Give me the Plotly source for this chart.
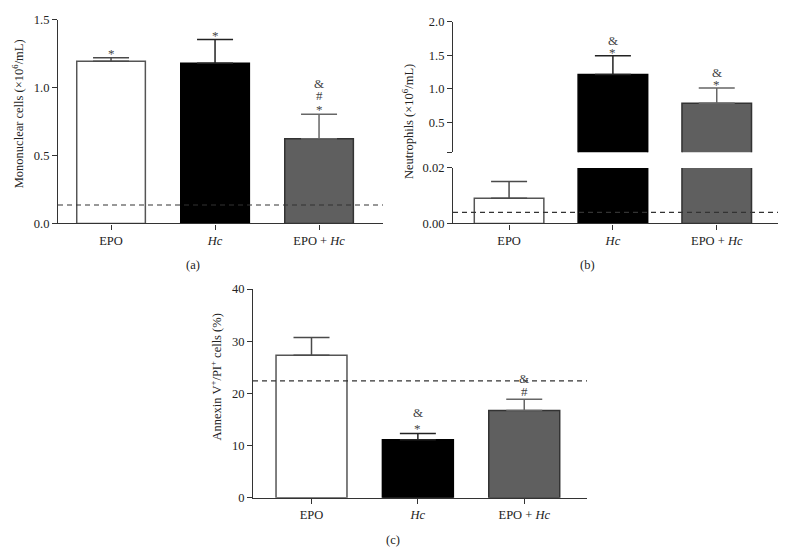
import plotly.graph_objects as go

# ---------------- data ----------------
categories = ["EPO", "<i>Hc</i>", "EPO + <i>Hc</i>"]
positions = [0, 1, 2]

mono_values = [1.194, 1.179, 0.624]
mono_errors = [0.026, 0.175, 0.180]
mono_baseline = 0.136
mono_sig = [["*"], ["*"], ["*", "#", "&"]]

neut_values = [0.0091, 1.21, 0.78]
neut_errors = [0.0060, 0.28, 0.23]
neut_baseline = 0.004
neut_sig = [[], ["*", "&"], ["*", "&"]]

annex_values = [27.3, 11.1, 16.7]
annex_errors = [3.4, 1.2, 2.2]
annex_baseline = 22.4
annex_sig = [[], ["*", "&"], ["#", "&"]]

mono_ticks = [0.0, 0.5, 1.0, 1.5]
neut_upper_ticks = [0.05, 0.5, 1.0, 1.5, 2.0]
neut_upper_ticktext = ["", "0.5", "1.0", "1.5", "2.0"]
neut_lower_ticks = [0.0, 0.02]
neut_lower_ticktext = ["0.00", "0.02"]
annex_ticks = [0, 10, 20, 30, 40]

# ---------------- style ----------------
W, H = 790, 560
FONT = "Liberation Serif"
TXT = "#222222"
AX = "#333333"
fills = ["#ffffff", "#000000", "#5f5f5f"]
outlines = ["#555555", "#000000", "#333333"]
err_colors = ["#4a4a4a", "#222222", "#666666"]

fig = go.Figure()


def add_bars(xa, ya, vals, errs, width, show_err=True):
    for i in range(3):
        fig.add_trace(go.Bar(
            x=[positions[i]], y=[vals[i]], xaxis=xa, yaxis=ya,
            width=width,
            marker=dict(color=fills[i], line=dict(color=outlines[i], width=1.5)),
            error_y=dict(type="data", symmetric=False, array=[errs[i]], arrayminus=[0],
                         color=err_colors[i], thickness=1.5, width=18, visible=show_err),
            showlegend=False, hoverinfo="skip"))


add_bars("x", "y", mono_values, mono_errors, 0.66)
add_bars("x2", "y2", neut_values, neut_errors, 0.67)
add_bars("x2", "y3", neut_values, neut_errors, 0.67)
add_bars("x3", "y4", annex_values, annex_errors, 0.667)


def px_x(p):
    return p / W


def px_y(p):
    return 1 - p / H


axis_common = dict(showline=True, linecolor=AX, linewidth=1.2, ticks="outside",
                   ticklen=5, tickwidth=1.2, tickcolor=AX, showgrid=False, zeroline=False,
                   tickfont=dict(family=FONT, size=12.5, color=TXT))

fig.update_layout(
    width=W, height=H, margin=dict(l=0, r=0, t=0, b=0),
    paper_bgcolor="white", plot_bgcolor="white", barmode="overlay",
    xaxis=dict(domain=[px_x(58), px_x(383)], range=[-0.51, 2.615], anchor="y",
               tickvals=positions, ticktext=categories, **axis_common),
    yaxis=dict(domain=[px_y(222), px_y(13)], range=[0, 1.5], anchor="x",
               tickvals=mono_ticks, tickformat=".1f", **axis_common),
    xaxis2=dict(domain=[px_x(453), px_x(778)], range=[-0.54, 2.59], anchor="y2",
                tickvals=positions, ticktext=categories, **axis_common),
    yaxis2=dict(domain=[px_y(222), px_y(165)], range=[0, 0.02], anchor="x2",
                tickvals=neut_lower_ticks, ticktext=neut_lower_ticktext, **axis_common),
    yaxis3=dict(domain=[px_y(149), px_y(15)], range=[0.05, 2.0], anchor="x2",
                tickvals=neut_upper_ticks, ticktext=neut_upper_ticktext, **axis_common),
    xaxis3=dict(domain=[px_x(253), px_x(587)], range=[-0.55, 2.59], anchor="y4",
                tickvals=positions, ticktext=categories, **axis_common),
    yaxis4=dict(domain=[px_y(503.3), px_y(289.3)], range=[0, 40], anchor="x3",
                tickvals=annex_ticks, **axis_common),
)

# dashed baselines
for xr, yr, val in [("x", "y", mono_baseline), ("x2", "y2", neut_baseline), ("x3", "y4", annex_baseline)]:
    fig.add_shape(type="line", xref=f"{xr} domain", yref=yr, x0=0, x1=1, y0=val, y1=val,
                  line=dict(color="#333333", width=1.2, dash="5px,4px"))

annotations = []

# significance marks
def add_sig(xr, yr, vals, errs, sigs, spacing, base):
    for i in range(3):
        for k, s in enumerate(sigs[i]):
            shift = base + k * spacing - (2.5 if s == "*" else 0)
            annotations.append(dict(x=positions[i], y=vals[i] + errs[i], xref=xr, yref=yr,
                                    text=s, showarrow=False, yanchor="middle", yshift=shift,
                                    font=dict(family=FONT, size=13, color="#444444")))


add_sig("x", "y", mono_values, mono_errors, mono_sig, 12, 7)
add_sig("x2", "y3", neut_values, neut_errors, neut_sig, 9.5, 5.5)
add_sig("x3", "y4", annex_values, annex_errors, annex_sig, 13.5, 7.5)

# axis titles
for x, y, t in [(18, 110, "Mononuclear cells (×10<sup>6</sup>/mL)"),
                (408, 118, "Neutrophils (×10<sup>6</sup>/mL)"),
                (215, 380, "Annexin V<sup>+</sup>/PI<sup>+</sup> cells (%)")]:
    annotations.append(dict(x=px_x(x), y=px_y(y), xref="paper", yref="paper", text=t,
                            textangle=-90, showarrow=False, xanchor="center", yanchor="middle",
                            font=dict(family=FONT, size=12.5, color=TXT)))

# panel labels
for x, y, t in [(193, 265, "(a)"), (587, 265, "(b)"), (393, 547, "(c)")]:
    annotations.append(dict(x=px_x(x), y=px_y(y), xref="paper", yref="paper", text=t,
                            showarrow=False, xanchor="center", yanchor="middle",
                            font=dict(family=FONT, size=12.5, color=TXT)))

fig.update_layout(annotations=annotations)
fig.write_html("out.html", config={"displayModeBar": False},
               post_script="document.body.style.margin='0';document.body.style.overflow='hidden';")
